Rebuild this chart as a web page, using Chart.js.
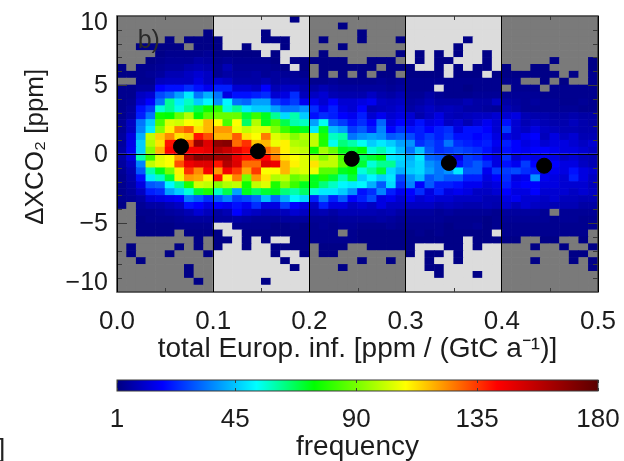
<!DOCTYPE html>
<html>
<head>
<meta charset="utf-8">
<script src="https://cdn.jsdelivr.net/npm/chart.js@4/dist/chart.umd.min.js"></script>
<style>
	html, body { margin: 0; padding: 0; background: #fff; overflow: hidden; }
	#wrap { position: relative; width: 624px; height: 461px; }
	#heat { position: absolute; left: 0; top: 0; }
	#bar { position: absolute; left: 0; top: 370px; }
	#stray { position: absolute; left: -2px; top: 433px; font: 26px "Liberation Sans"; color: #222; }
</style>
</head>
<body>
<div id="wrap">
	<canvas id="heat" width="624" height="370"></canvas>
	<canvas id="bar" width="624" height="91"></canvas>
	<div id="stray">]</div>
</div>
<script>
// bin edges of the 2d histogram
const xStart = 0.0;
const xBinSize = 0.01;
const yTop = 10.0;
const yBinSize = 0.5;

// counts per cell, top row first, 50 columns, 0 = no data
const row00 = [0,0,0,0,0,0,0,0,0,0, 0,0,0,0,0,0,0,0,2,0, 0,0,0,0,0,0,0,0,0,0, 0,0,0,0,0,0,0,0,0,0, 0,0,0,0,0,0,0,0,0,0];
const row01 = [0,0,0,0,0,0,0,0,0,0, 0,0,0,0,0,0,0,0,0,0, 0,0,0,2,0,0,0,0,0,0, 0,0,0,0,0,0,0,0,0,0, 0,0,0,0,0,0,0,0,0,0];
const row02 = [0,0,0,0,0,0,0,0,0,2, 0,0,0,0,0,2,0,0,0,0, 0,0,0,0,0,2,0,0,0,0, 0,0,0,0,0,0,0,0,0,0, 0,0,0,0,0,0,0,0,0,0];
const row03 = [0,0,0,0,0,2,0,2,2,2, 2,0,0,0,0,2,2,2,0,0, 0,2,0,0,0,2,0,0,0,2, 0,0,0,0,0,0,2,0,0,0, 0,0,0,0,0,0,0,0,0,0];
const row04 = [0,0,2,2,2,2,2,0,2,2, 2,0,0,2,0,0,0,2,0,0, 0,0,0,2,0,0,0,0,0,0, 0,0,0,0,0,2,0,0,0,0, 0,0,0,0,0,0,0,0,0,0];
const row05 = [0,0,0,0,2,3,3,3,3,4, 2,2,2,2,2,0,2,0,0,0, 0,2,0,0,0,0,0,0,0,2, 0,2,0,2,0,2,0,0,2,0, 0,0,0,0,0,0,0,0,0,0];
const row06 = [0,0,0,2,3,4,4,4,6,5, 3,4,3,3,3,3,2,0,2,2, 2,2,2,2,0,0,2,2,2,0, 0,2,0,2,2,0,0,0,2,0, 0,0,0,0,0,2,0,0,0,2];
const row07 = [2,0,3,3,4,5,5,7,8,7, 4,8,4,4,4,4,3,2,0,2, 0,2,2,2,2,2,2,0,2,2, 2,0,0,2,0,2,0,2,2,0, 2,0,0,2,2,0,0,0,0,2];
const row08 = [2,2,3,4,5,8,8,10,12,10, 4,6,5,5,6,4,5,4,4,3, 0,2,0,2,0,2,0,2,2,0, 2,2,2,2,0,2,2,2,0,2, 2,2,2,2,2,2,0,2,0,3];
const row09 = [0,0,3,3,9,10,10,10,14,10, 12,10,6,6,6,8,5,6,5,5, 3,3,4,3,3,3,3,4,3,4, 3,3,3,3,3,3,3,3,3,3, 3,3,0,0,2,0,2,0,0,3];
const row10 = [3,3,5,5,18,20,20,24,20,16, 22,22,12,12,10,18,8,10,10,7, 6,8,6,5,5,5,5,5,4,5, 3,3,3,0,3,3,2,3,3,3, 0,3,3,3,0,3,3,3,3,3];
const row11 = [3,3,10,12,28,32,40,50,34,42, 34,14,20,20,22,24,12,14,24,9, 10,12,8,7,7,7,10,7,6,8, 4,4,6,4,3,3,3,4,4,4, 4,4,4,4,3,3,3,3,3,3];
const row12 = [3,4,12,18,34,62,50,58,46,52, 38,52,34,32,40,40,26,22,26,16, 16,12,18,12,12,14,16,10,9,10, 5,6,8,6,6,6,8,6,6,10, 6,5,4,5,4,4,3,3,4,3];
const row13 = [3,5,20,26,56,62,55,62,68,76, 80,56,62,50,46,46,40,34,34,38, 24,16,22,14,12,18,8,9,10,12, 6,8,10,8,9,8,6,6,5,4, 8,6,4,4,4,4,4,4,3,3];
const row14 = [3,6,22,34,76,74,88,98,74,86, 88,88,88,70,82,72,62,48,60,46, 20,24,22,18,16,22,12,16,12,14, 12,7,10,14,9,8,9,10,10,12, 12,14,8,7,7,6,6,7,6,6];
const row15 = [4,10,34,46,84,104,102,108,106,118, 108,84,108,66,98,72,84,68,60,58, 40,54,30,26,20,24,18,32,14,18, 14,20,14,16,10,12,8,12,16,12, 20,12,8,10,8,7,7,9,7,6];
const row16 = [4,10,36,50,92,110,125,130,112,118, 122,122,106,100,104,104,92,82,76,72, 50,72,44,40,26,30,22,36,18,24, 20,22,18,22,24,14,20,20,18,12, 26,12,10,14,10,9,8,8,7,7];
const row17 = [5,14,42,100,115,124,112,115,140,132, 118,118,130,112,108,126,104,100,92,98, 100,78,58,60,34,38,40,38,30,32, 28,22,26,22,26,20,20,18,20,14, 14,12,16,18,9,14,10,12,8,8];
const row18 = [5,15,46,98,112,140,145,132,165,150, 168,170,128,136,116,118,106,110,98,96, 100,78,54,64,60,54,46,50,46,40, 38,24,28,24,34,24,22,20,22,16, 22,18,14,16,12,14,14,12,10,12];
const row19 = [6,16,46,92,118,142,150,145,145,148, 160,155,148,140,125,128,122,110,102,100, 76,96,88,72,70,74,56,60,52,44, 34,45,30,24,26,28,26,24,20,14, 20,18,16,18,18,16,14,14,12,10];
const row20 = [6,14,60,82,104,108,122,160,170,168, 165,165,148,140,138,142,125,112,108,104, 100,92,100,84,60,66,70,74,50,48, 42,50,32,30,26,14,26,24,18,14, 24,12,16,14,16,14,10,12,9,8];
const row21 = [5,10,36,100,105,108,132,146,150,150, 140,160,150,128,128,150,146,118,110,104, 112,100,100,86,74,70,56,62,62,46, 44,48,38,34,30,20,26,30,24,14, 20,16,26,18,16,18,14,14,10,8];
const row22 = [4,8,30,60,72,90,110,136,124,144, 122,145,135,120,135,108,108,118,102,104, 106,86,86,72,74,56,62,70,48,42, 46,48,40,34,38,50,30,30,16,26, 26,28,24,22,14,16,14,20,14,12];
const row23 = [3,7,20,50,58,70,106,122,120,110, 140,110,125,90,122,112,98,100,88,92, 72,78,70,60,70,46,52,46,50,28, 38,44,30,34,30,30,22,22,14,18, 24,14,16,38,16,14,12,22,14,10];
const row24 = [3,6,14,30,32,52,62,78,102,100, 92,98,100,76,100,104,78,92,82,72, 72,64,58,52,50,52,42,30,48,24, 36,18,30,22,22,20,16,16,12,14, 22,16,18,18,14,14,12,12,12,9];
const row25 = [3,5,10,22,24,40,46,56,70,78, 58,68,40,72,66,70,72,64,60,66, 56,50,50,46,38,20,24,36,22,16, 18,24,14,22,14,16,14,10,10,12, 18,14,14,18,12,12,12,10,12,10];
const row26 = [3,4,6,12,14,16,18,34,30,24, 30,36,26,28,32,44,32,42,52,48, 22,34,22,30,18,22,28,14,16,12, 16,12,14,12,12,10,10,10,8,8, 14,16,12,12,10,12,9,9,8,8];
const row27 = [2,0,4,6,6,8,10,20,18,14, 18,16,20,16,24,14,14,26,18,14, 10,22,14,14,10,12,10,14,10,10, 10,10,10,8,9,8,7,7,8,7, 12,9,12,10,9,8,8,8,6,6];
const row28 = [0,0,3,3,4,5,6,8,12,9, 6,8,18,12,10,8,8,9,12,10, 7,8,6,8,8,8,8,7,8,6, 5,5,5,4,5,4,4,4,4,3, 5,5,5,5,4,0,4,4,4,4];
const row29 = [0,0,2,3,3,3,4,5,5,5, 5,5,6,5,4,4,4,5,5,5, 4,4,4,5,5,5,5,6,5,4, 4,4,4,4,3,3,3,3,2,3, 4,4,4,4,4,3,4,4,3,3];
const row30 = [0,0,2,2,2,2,3,3,3,3, 0,0,3,3,3,3,2,2,3,2, 3,4,3,4,4,3,3,3,4,3, 3,3,3,3,2,3,3,4,2,3, 3,3,3,3,3,3,3,3,3,3];
const row31 = [0,0,2,2,2,2,0,2,2,2, 2,0,0,2,2,2,2,2,2,2, 3,3,3,0,3,2,2,2,2,2, 2,3,2,3,2,2,2,2,2,0, 3,3,3,3,3,3,3,3,3,0];
const row32 = [0,0,0,0,0,0,0,0,2,0, 2,2,0,2,0,2,0,0,2,2, 3,3,3,3,3,2,2,2,2,2, 2,2,2,2,2,2,0,2,2,2, 2,2,0,0,2,2,0,0,2,0];
const row33 = [0,2,0,0,0,0,2,0,2,0, 2,0,0,2,0,0,2,2,2,2, 0,2,2,2,0,0,2,2,2,2, 2,0,0,0,2,2,0,2,0,0, 0,0,0,2,0,0,2,0,0,2];
const row34 = [0,2,0,0,0,2,0,0,0,2, 0,0,0,0,0,0,2,0,0,2, 0,2,2,0,0,0,0,0,0,0, 2,0,2,2,0,2,0,0,0,0, 0,0,0,0,0,0,0,2,2,0];
const row35 = [0,0,2,0,0,0,0,0,0,0, 0,0,0,0,0,0,0,2,0,0, 0,0,0,0,0,2,0,0,2,0, 0,0,2,0,0,2,0,0,0,0, 0,0,0,2,0,0,0,2,0,2];
const row36 = [0,0,0,0,0,0,0,2,0,0, 0,0,0,0,0,0,0,0,2,0, 0,0,0,2,0,0,0,0,0,0, 0,0,2,2,0,0,0,0,0,0, 0,0,0,0,0,0,0,0,0,2];
const row37 = [0,0,0,0,0,0,0,2,0,0, 0,0,0,0,0,0,0,0,0,0, 0,0,0,0,0,0,0,0,0,0, 0,0,0,2,0,0,0,2,0,0, 0,0,0,0,0,0,0,0,0,0];
const row38 = [0,0,0,0,0,0,0,0,2,0, 0,0,0,0,0,2,0,0,0,0, 0,0,0,0,0,0,0,0,0,0, 0,0,0,0,0,0,0,0,0,0, 0,0,0,0,0,0,0,0,0,0];
const row39 = [0,0,0,0,0,0,0,0,0,0, 0,0,0,0,0,0,0,0,0,0, 0,0,0,0,0,0,0,0,0,0, 0,0,0,0,0,0,0,0,0,0, 0,0,0,0,0,0,0,0,0,0];

const countRows = [
	row00, row01, row02, row03, row04, row05, row06, row07, row08, row09,
	row10, row11, row12, row13, row14, row15, row16, row17, row18, row19,
	row20, row21, row22, row23, row24, row25, row26, row27, row28, row29,
	row30, row31, row32, row33, row34, row35, row36, row37, row38, row39
];

// bin means
const meanX = [0.0665, 0.1465, 0.244, 0.345, 0.444];
const meanY = [0.55, 0.2, -0.35, -0.65, -0.85];

const xTickValues = [0.05, 0.15, 0.25, 0.35, 0.45];
const yMinorValues = [9, 8, 7, 6, 4, 3, 2, 1, -1, -2, -3, -4, -6, -7, -8, -9];
const yMajorValues = [5, -5];
const yEndLabels = [{ value: 10, label: '10', nudge: 6.7 }, { value: -10, label: '\u221210', nudge: -8.8 }];
const frequencyTicks = [1, 45, 90, 135, 180];

// rainbow table of the colour bar: position 0-1 and rgb
const rainbowStops = [
	[0.00, 0, 0, 128],
	[0.095, 0, 0, 255],
	[0.29, 0, 255, 255],
	[0.41, 0, 255, 0],
	[0.60, 255, 255, 0],
	[0.79, 255, 0, 0],
	[1.00, 90, 0, 0]
];

const clrPanelDark = '#7a7a7a';
const clrPanelLight = '#dcdcdc';
const clrText = '#1c1c1c';
const clrFrame = '#3a3a3a';
const fontName = '"Liberation Sans", Arial, sans-serif';

function count_color(count)
{
	const t = (count - 1) / 179;
	for(let i = 1; i < rainbowStops.length; ++i) {
		const a = rainbowStops[i - 1];
		const b = rainbowStops[i];
		if(t <= b[0]) {
			const f = (t - a[0]) / (b[0] - a[0]);
			const mix = function(n) { return Math.round(a[n] + (b[n] - a[n]) * f); };
			return 'rgb(' + mix(1) + ',' + mix(2) + ',' + mix(3) + ')';
		}
	}
	return 'rgb(90,0,0)';
}

function panel_color(x)
{
	// 0.1-0.2 and 0.3-0.4 are the light panels
	return Math.floor(x * 10) % 2 === 1 ? clrPanelLight : clrPanelDark;
}

function build_cells()
{
	const cells = [];
	for(let r = 0; r < countRows.length; ++r) {
		for(let c = 0; c < countRows[r].length; ++c) {
			cells.push({
				x: xStart + (c + 0.5) * xBinSize,
				y: [yTop - (r + 1) * yBinSize, yTop - r * yBinSize],
				count: countRows[r][c]
			});
		}
	}
	return cells;
}

function no_side_padding(scale)
{
	scale.paddingLeft = 0;
	scale.paddingRight = 0;
	scale.paddingTop = 0;
	scale.paddingBottom = 0;
}

// inner ticks, frame, the "b)" tag and the two shifted end labels
const overlayPlugin = {
	id: 'overlay',
	afterDatasetsDraw: function(chart) {
		const ctx = chart.ctx;
		const area = chart.chartArea;
		const sx = chart.scales.x;
		const sy = chart.scales.y;

		ctx.save();
		ctx.strokeStyle = clrFrame;
		ctx.lineWidth = 1;
		ctx.beginPath();
		xTickValues.forEach(function(v) {
			const px = Math.round(sx.getPixelForValue(v)) + 0.5;
			ctx.moveTo(px, area.top); ctx.lineTo(px, area.top + 4);
			ctx.moveTo(px, area.bottom); ctx.lineTo(px, area.bottom - 4);
		});
		yMinorValues.forEach(function(v) {
			const py = Math.round(sy.getPixelForValue(v)) + 0.5;
			ctx.moveTo(area.left, py); ctx.lineTo(area.left + 5, py);
			ctx.moveTo(area.right, py); ctx.lineTo(area.right - 5, py);
		});
		yMajorValues.forEach(function(v) {
			const py = Math.round(sy.getPixelForValue(v)) + 0.5;
			ctx.moveTo(area.left, py); ctx.lineTo(area.left + 10, py);
			ctx.moveTo(area.right, py); ctx.lineTo(area.right - 10, py);
		});
		ctx.stroke();
		ctx.lineWidth = 1.5;
		ctx.strokeRect(area.left, area.top, area.right - area.left, area.bottom - area.top);

		ctx.fillStyle = clrText;
		ctx.font = '25px ' + fontName;
		ctx.textAlign = 'right';
		ctx.textBaseline = 'middle';
		yEndLabels.forEach(function(item) {
			ctx.fillText(item.label, area.left - 9, sy.getPixelForValue(item.value) + item.nudge);
		});

		ctx.textAlign = 'left';
		ctx.fillStyle = '#2a2a2a';
		ctx.font = '25px ' + fontName;
		ctx.fillText('b)', sx.getPixelForValue(0.0215), sy.getPixelForValue(8.2));
		ctx.restore();
	}
};

const colorbarFramePlugin = {
	id: 'colorbarFrame',
	afterDatasetsDraw: function(chart) {
		const ctx = chart.ctx;
		const area = chart.chartArea;
		const sx = chart.scales.x;
		ctx.save();
		ctx.strokeStyle = clrFrame;
		ctx.lineWidth = 1;
		ctx.strokeRect(area.left, area.top, area.right - area.left, area.bottom - area.top);
		ctx.beginPath();
		frequencyTicks.forEach(function(v) {
			const px = Math.round(sx.getPixelForValue(v)) + 0.5;
			ctx.moveTo(px, area.top); ctx.lineTo(px, area.top + 3);
			ctx.moveTo(px, area.bottom); ctx.lineTo(px, area.bottom - 3);
		});
		ctx.stroke();
		ctx.restore();
	}
};

function heat_create()
{
	return new Chart('heat', {
		type: 'bar',
		data: {
			datasets: [{
				type: 'scatter',
				data: meanX.map(function(x, i) { return { x: x, y: meanY[i] }; }),
				backgroundColor: '#000',
				borderColor: '#000',
				pointRadius: 7.5,
				order: 0
			}, {
				data: build_cells(),
				backgroundColor: function(ctx) {
					const cell = ctx.raw;
					if(!cell) { return clrPanelDark; }
					return cell.count > 0 ? count_color(cell.count) : panel_color(cell.x);
				},
				borderWidth: 0,
				barPercentage: 1,
				categoryPercentage: 1,
				grouped: false,
				order: 1
			}]
		},
		options: {
			responsive: false,
			animation: false,
			events: [],
			layout: { padding: { left: 0, right: 26, top: 16, bottom: 0 } },
			plugins: { legend: { display: false }, title: { display: false }, tooltip: { enabled: false } },
			scales: {
				x: {
					type: 'linear',
					offset: false,
					min: 0,
					max: 0.5,
					afterFit: function(scale) { no_side_padding(scale); scale.height = 78; },
					grid: { offset: false, color: '#000', z: 1, drawTicks: false },
					border: { display: false },
					ticks: {
						stepSize: 0.1,
						padding: 14,
						maxRotation: 0,
						color: clrText,
						font: { family: fontName, size: 26 },
						callback: function(v) { return v.toFixed(1); }
					},
					title: {
						display: true,
						text: 'total Europ. inf. [ppm / (GtC a\u207B\u00B9)]',
						color: clrText,
						font: { family: fontName, size: 28 },
						padding: { top: 0, bottom: 4 }
					}
				},
				y: {
					min: -10,
					max: 10,
					afterFit: function(scale) { no_side_padding(scale); scale.width = 117; },
					grid: {
						color: function(ctx) { return ctx.tick.value === 0 ? '#000' : 'rgba(0,0,0,0)'; },
						z: 1,
						drawTicks: false
					},
					border: { display: false },
					ticks: {
						stepSize: 5,
						padding: 9,
						labelOffset: 1.5,
						color: clrText,
						font: { family: fontName, size: 25 },
						callback: function(v) {
							if(Math.abs(v) === 10) { return ''; }
							return v < 0 ? '\u2212' + Math.abs(v) : String(v);
						}
					},
					title: {
						display: true,
						text: '\u00A0\u00A0\u0394XCO\u2082 [ppm]',
						color: clrText,
						font: { family: fontName, size: 26 },
						padding: { top: 20, bottom: 0 }
					}
				}
			}
		},
		plugins: [overlayPlugin]
	});
}

function colorbar_fill(chart)
{
	const area = chart.chartArea;
	if(!area) { return '#000'; }
	const grad = chart.ctx.createLinearGradient(area.left, 0, area.right, 0);
	rainbowStops.forEach(function(s) {
		grad.addColorStop(s[0], 'rgb(' + s[1] + ',' + s[2] + ',' + s[3] + ')');
	});
	return grad;
}

function colorbar_create()
{
	return new Chart('bar', {
		type: 'bar',
		data: {
			labels: ['frequency'],
			datasets: [{
				data: [[frequencyTicks[0], frequencyTicks[frequencyTicks.length - 1]]],
				backgroundColor: function(ctx) { return colorbar_fill(ctx.chart); },
				borderWidth: 0,
				barPercentage: 1,
				categoryPercentage: 1
			}]
		},
		options: {
			indexAxis: 'y',
			responsive: false,
			animation: false,
			events: [],
			layout: { padding: { left: 117, right: 26, top: 10, bottom: 0 } },
			plugins: { legend: { display: false }, tooltip: { enabled: false } },
			scales: {
				x: {
					type: 'linear',
					min: 1,
					max: 180,
					afterBuildTicks: function(scale) {
						scale.ticks = frequencyTicks.map(function(v) { return { value: v }; });
					},
					afterFit: function(scale) { no_side_padding(scale); scale.height = 70; },
					grid: { display: false },
					border: { display: false },
					ticks: {
						autoSkip: false,
						maxRotation: 0,
						padding: 5,
						color: clrText,
						font: { family: fontName, size: 26 },
						callback: function(v) { return String(v); }
					},
					title: {
						display: true,
						text: 'frequency',
						color: clrText,
						font: { family: fontName, size: 28 },
						padding: { top: 0, bottom: -3 }
					}
				},
				y: {
					display: false
				}
			}
		},
		plugins: [colorbarFramePlugin]
	});
}

heat_create();
colorbar_create();
</script>
</body>
</html>
